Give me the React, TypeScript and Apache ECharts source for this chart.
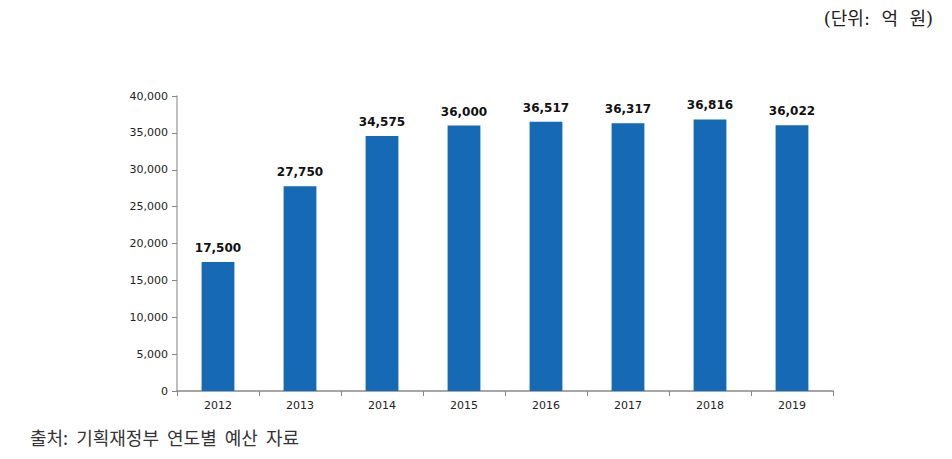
import React, { useEffect, useRef } from "react";
import * as echarts from "echarts";

const years = ["2012", "2013", "2014", "2015", "2016", "2017", "2018", "2019"];
const budget = [17500, 27750, 34575, 36000, 36517, 36317, 36816, 36022];
const unitText = "(단위:  억  원)";
const sourceText = "출처:  기획재정부  연도별  예산  자료";

export default function App() {
  const ref = useRef<HTMLDivElement>(null);
  useEffect(() => {
    if (!ref.current) return;
    const chart = echarts.init(ref.current, null, { renderer: "svg" });
    chart.setOption({
      animation: false,
      backgroundColor: "#ffffff",
      grid: { left: 177, right: 119, top: 96, bottom: 68, containLabel: false },
      graphic: [
        {
          type: "text",
          right: 19,
          top: 9,
          style: {
            text: unitText,
            font: '18px "DejaVu Serif", "Noto Sans CJK KR", serif',
            fill: "#222",
          },
        },
        {
          type: "text",
          left: 30,
          top: 428,
          style: {
            text: sourceText,
            font: '18px "Noto Sans CJK KR", sans-serif',
            fill: "#333",
          },
        },
      ],
      xAxis: {
        type: "category",
        data: years,
        axisLine: { lineStyle: { color: "#888", width: 1.5 } },
        axisTick: { show: true, alignWithLabel: false, length: 5, lineStyle: { color: "#888" } },
        axisLabel: { color: "#222", fontSize: 11, margin: 9, fontFamily: "Verdana, 'DejaVu Sans', sans-serif" },
      },
      yAxis: {
        type: "value",
        min: 0,
        max: 40000,
        interval: 5000,
        axisLine: { show: true, lineStyle: { color: "#aaa", width: 1.5 } },
        axisTick: { show: true, length: 5, lineStyle: { color: "#888" } },
        splitLine: { show: false },
        axisLabel: {
          color: "#222",
          fontSize: 11,
          margin: 9,
          fontFamily: "Verdana, 'DejaVu Sans', sans-serif",
          formatter: (v: number) => v.toLocaleString("en-US"),
        },
      },
      series: [
        {
          type: "bar",
          data: budget,
          barWidth: "40%",
          itemStyle: { color: "#1669B4" },
          label: {
            show: true,
            position: "top",
            distance: 8,
            color: "#111",
            fontWeight: "bold",
            fontSize: 12,
            fontFamily: "'DejaVu Sans', sans-serif",
            formatter: (p: any) => Number(p.value).toLocaleString("en-US"),
          },
        },
      ],
    });
    return () => chart.dispose();
  }, []);
  return <div ref={ref} style={{ width: 952, height: 459, position: "absolute", left: 0, top: 0 }} />;
}
